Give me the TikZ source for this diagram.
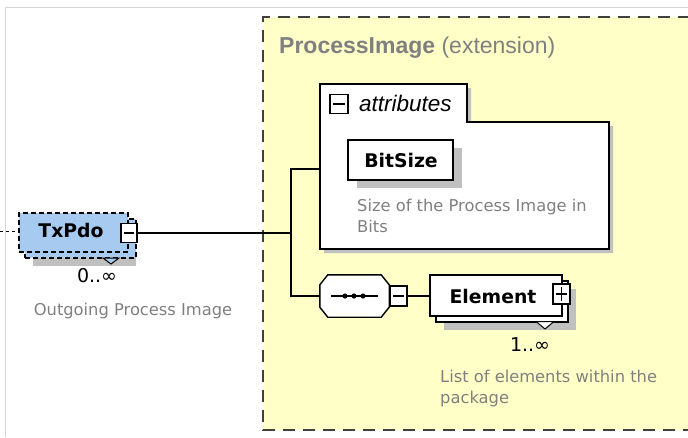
\documentclass[tikz,border=0pt]{standalone}
\usepackage{fontspec}
\setmainfont{DejaVu Sans}
\newfontfamily\arialf{Liberation Sans}
\definecolor{yel}{HTML}{FFFFC8}
\definecolor{txtgray}{HTML}{808080}
\definecolor{shad}{HTML}{C0C0C0}
\definecolor{boxblue}{HTML}{A6CAF0}
\definecolor{framegray}{HTML}{D4D4D4}
\begin{document}
\begin{tikzpicture}[x=1pt,y=-1pt,
  desc/.style={text=txtgray,font=\fontsize{16.3}{21}\selectfont,align=left,inner sep=0pt},
  elname/.style={font=\bfseries\fontsize{18.8}{22}\selectfont,inner sep=0pt},
  mult/.style={font=\fontsize{19}{22}\selectfont,inner sep=0pt},
  conn/.style={line width=1.2pt},
  elbox/.style={draw,line width=1.4pt,fill=white,rectangle,inner sep=0pt},
  shadowbox/.style={fill=shad,draw=none,rectangle,inner sep=0pt},
  smallbox/.style={draw,line width=1.1pt,fill=white,rectangle,inner sep=0pt},
  octo/.style={rectangle,minimum width=69pt,minimum height=42pt,inner sep=0pt},
  dashbox/.style={draw,line width=1.4pt,dash pattern=on 5pt off 3pt,fill=boxblue,rectangle,inner sep=0pt}]
\useasboundingbox (0,0) rectangle (688,437);
% outer frame
\draw[framegray,line width=0.8pt] (5,437) -- (5,7) -- (688,7);
% yellow extension area
\fill[yel] (263,17) rectangle (690,430);
\draw[line width=1.3pt,black!75,dash pattern=on 12pt off 8pt] (690,17) -- (263,17) -- (263,430) -- (690,430);
\node[anchor=base west,inner sep=0pt,text=txtgray,font=\arialf\fontsize{23}{26}\selectfont] (title) at (279,53) {\textbf{ProcessImage} (extension)};

% TxPdo
\draw[dash pattern=on 3pt off 3pt,line width=0.9pt] (0,231) -- (19,231);
\fill[shad] (33,227) rectangle (136,266);
\node[dashbox,minimum width=111pt,minimum height=39pt] (txback) at (80.5,238.5) {};
\node[dashbox,minimum width=109pt,minimum height=39pt] (tx) at (73.5,232.5) {};
\node[elname] (txname) at (71,230) {TxPdo};
\node[smallbox,minimum width=16pt,minimum height=19pt] (txm) at (129,233) {};
\draw[line width=1.1pt] (txm.west) ++(3.5,0) -- ([xshift=-3.5pt]txm.east);
\draw[line width=1pt,fill=boxblue] (103,258) -- (119,258) -- (111,264) -- cycle;
\node[mult] (txmult) at (97,276) {0..∞};
\node[desc] (txdesc) at (133,311) {Outgoing Process Image};

% attributes group
\path[fill=shad] (324,88) -- (471,88) -- (471,126) -- (613,126) -- (613,253) -- (324,253) -- cycle;
\draw[line width=1.5pt,fill=white] (320,84) -- (467,84) -- (467,122) -- (609,122) -- (609,249) -- (320,249) -- cycle;
\coordinate (attrin) at (320,169);
\node[smallbox,minimum width=18pt,minimum height=19pt] (attm) at (339,104) {};
\draw[line width=1.1pt] (attm.west) ++(3.5,0) -- ([xshift=-3.5pt]attm.east);
\node[anchor=base west,inner sep=0pt,font=\arialf\itshape\fontsize{22.5}{25}\selectfont] (attname) at (359,111) {attributes};

% BitSize
\node[shadowbox,minimum width=105pt,minimum height=40pt] (bitshadow) at (409.5,168) {};
\node[elbox,minimum width=105pt,minimum height=40pt] (bit) at (400.5,160) {};
\node[elname] (bitname) at (401,160) {BitSize};
\node[desc,anchor=north west] (bitdesc) at (357,199) {Size of the Process Image in\\Bits};

% sequence compositor
\node[octo] (seq) at (354.5,296) {};
\fill[shad,shift={(6,6)}] ([xshift=8pt]seq.north west) -- ([xshift=-8pt]seq.north east) -- ([yshift=-10pt]seq.north east) -- ([yshift=10pt]seq.south east) -- ([xshift=-8pt]seq.south east) -- ([xshift=8pt]seq.south west) -- ([yshift=10pt]seq.south west) -- ([yshift=-10pt]seq.north west) -- cycle;
\draw[line width=1.4pt,fill=white] ([xshift=8pt]seq.north west) -- ([xshift=-8pt]seq.north east) -- ([yshift=-10pt]seq.north east) -- ([yshift=10pt]seq.south east) -- ([xshift=-8pt]seq.south east) -- ([xshift=8pt]seq.south west) -- ([yshift=10pt]seq.south west) -- ([yshift=-10pt]seq.north west) -- cycle;
\draw[line width=1.1pt] (331,296) -- (378,296);
\foreach \dx in {345,354,363} \fill (\dx,296) circle (2.6pt);
\node[smallbox,minimum width=17pt,minimum height=20pt] (seqm) at (398.5,296) {};
\draw[line width=1.1pt] (seqm.west) ++(3.5,0) -- ([xshift=-3.5pt]seqm.east);

% Element
\node[shadowbox,minimum width=132pt,minimum height=41pt] (elshadow) at (510,309.5) {};
\node[elbox,minimum width=132pt,minimum height=41pt] (elback) at (502,301.5) {};
\node[elbox,minimum width=132pt,minimum height=41pt] (el) at (496,295.5) {};
\node[elname] (elname) at (493,296) {Element};
\node[smallbox,minimum width=17pt,minimum height=20pt] (elp) at (561.5,294) {};
\draw[line width=1.1pt] (elp.west) ++(3.5,0) -- ([xshift=-3.5pt]elp.east);
\draw[line width=1.1pt] (elp.north) ++(0,3.5) -- ([yshift=3.5pt]elp.south);
\draw[line width=1pt,fill=white] (536,321.5) -- (554,321.5) -- (545,329) -- cycle;
\node[mult] (elmult) at (530,345) {1..∞};
\node[desc,anchor=north west] (eldesc) at (440,370) {List of elements within the\\package};

% connectors
\coordinate (jx) at (291,233);
\draw[conn] (txm.east) -- (jx);
\draw[conn] (attrin) -| (jx) |- (seq.west);
\draw[conn] (seqm.east) -- (el.west |- seqm.east);
\end{tikzpicture}
\end{document}
